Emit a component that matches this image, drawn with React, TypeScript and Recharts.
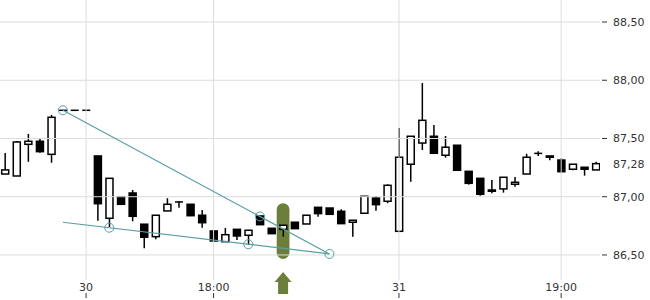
import React from 'react';
import {
  ComposedChart,
  Bar,
  XAxis,
  YAxis,
  ReferenceLine,
  ReferenceDot,
  ReferenceArea,
} from 'recharts';

// candle values, one entry per period
const opens = [
  87.195, 87.178, 87.45, 87.476, 87.364, 87.742, 87.742, 87.742, 87.35, 86.815,
  87.0, 87.032, 86.764, 86.657, 86.878, 86.955, 86.935, 86.841, 86.706, 86.614,
  86.72, 86.669, 86.835, 86.729, 86.72, 86.781, 86.766, 86.909, 86.903, 86.875,
  86.781, 86.858, 86.989, 86.961, 86.703, 87.279, 87.461, 87.519, 87.356, 87.442,
  87.218, 87.158, 87.058, 87.067, 87.107, 87.195, 87.37, 87.35, 87.315, 87.236,
  87.253, 87.23,
];
const highs = [
  87.376, 87.479, 87.539, 87.5, 87.702, 87.742, 87.742, 87.742, 87.35, 87.158,
  87.0, 87.058, 86.764, 86.841, 86.987, 86.961, 86.935, 86.886, 86.706, 86.732,
  86.72, 86.712, 86.835, 86.729, 86.755, 86.781, 86.841, 86.909, 86.903, 86.892,
  86.798, 87.004, 87.006, 87.107, 87.59, 87.519, 87.976, 87.616, 87.521, 87.442,
  87.218, 87.158, 87.144, 87.167, 87.17, 87.369, 87.39, 87.35, 87.33, 87.279,
  87.253, 87.3,
];
const lows = [
  87.195, 87.178, 87.3, 87.378, 87.292, 87.742, 87.742, 87.742, 86.794, 86.74,
  86.935, 86.789, 86.557, 86.635, 86.878, 86.906, 86.837, 86.734, 86.62, 86.614,
  86.629, 86.586, 86.76, 86.683, 86.657, 86.726, 86.766, 86.829, 86.849, 86.769,
  86.657, 86.858, 86.88, 86.944, 86.703, 87.129, 87.401, 87.373, 87.335, 87.227,
  87.104, 87.009, 87.03, 87.035, 87.086, 87.195, 87.35, 87.313, 87.21, 87.227,
  87.181, 87.23,
];
const closes = [
  87.23, 87.47, 87.476, 87.387, 87.682, 87.742, 87.742, 87.742, 86.94, 87.158,
  86.935, 86.832, 86.652, 86.841, 86.935, 86.955, 86.837, 86.777, 86.62, 86.674,
  86.663, 86.712, 86.76, 86.683, 86.755, 86.726, 86.841, 86.855, 86.849, 86.769,
  86.798, 87.004, 86.932, 87.098, 87.339, 87.519, 87.656, 87.373, 87.425, 87.227,
  87.115, 87.021, 87.047, 87.167, 87.124, 87.339, 87.372, 87.339, 87.215, 87.279,
  87.236, 87.284,
];

const xTickIdx = [7, 18, 34, 48];
const xTickLabels = ['30', '18:00', '31', '19:00'];
const yTicks = [86.5, 87, 87.5, 88, 88.5];
const lastPrice = 87.28;

const upperTrend = [
  { i: 5, v: 87.742 },
  { i: 28, v: 86.509 },
];
const lowerTrend = [
  { i: 5, v: 86.781 },
  { i: 28, v: 86.509 },
];
const trendPoints = [
  { i: 5, v: 87.742 },
  { i: 22, v: 86.831 },
  { i: 28, v: 86.509 },
  { i: 9, v: 86.734 },
  { i: 21, v: 86.592 },
];
const signalIdx = 24;
const signalRange = [86.466, 86.944];
const arrowLevel = 86.26;

const rows = opens.map((open, i) => ({
  i,
  open,
  high: highs[i],
  low: lows[i],
  close: closes[i],
}));

const TEAL = '#5a9ea6';
const GREEN = '#6b7f3b';
const GRID = '#dcdcdc';
const FONT = 'DejaVu Sans, sans-serif';

const fmt = (v: number) => v.toFixed(2).replace('.', ',');

const Candle = (props: any) => {
  const { x, y, width, height, payload } = props;
  const { open, close, high, low } = payload;
  const cx = x + width / 2;
  const h = Math.abs(height || 0);
  const top = Math.min(y, y + (height || 0));
  const range = high - low;
  const toPx = (v: number) => (range > 0 ? top + ((high - v) / range) * h : top);
  const yo = toPx(open);
  const yc = toPx(close);
  const bodyTop = Math.min(yo, yc);
  const bodyH = Math.abs(yo - yc);
  const up = close >= open;
  return (
    <g>
      {h > 0 && <line x1={cx} x2={cx} y1={top} y2={top + h} stroke="#000" strokeWidth={1.5} />}
      {bodyH < 0.8 ? (
        <line x1={cx - 4} x2={cx + 4} y1={bodyTop} y2={bodyTop} stroke="#000" strokeWidth={1.5} />
      ) : (
        <rect
          x={cx - 3.5}
          y={bodyTop}
          width={7}
          height={bodyH}
          fill={up ? '#fff' : '#000'}
          stroke="#000"
          strokeWidth={1.5}
        />
      )}
    </g>
  );
};

const XTick = (props: any) => {
  const { x, y, payload } = props;
  const label = xTickLabels[xTickIdx.indexOf(payload.value)];
  return (
    <g>
      <text x={x} y={y + 11} textAnchor="middle" fontSize={11} fontFamily={FONT} fill="#333">
        {label}
      </text>
      <line x1={x} x2={x} y1={y + 13} y2={y + 18} stroke="#333" strokeWidth={1} />
    </g>
  );
};

const YTick = (props: any) => {
  const { x, y, payload } = props;
  const isLast = payload.value === lastPrice;
  return (
    <g>
      {!isLast && <line x1={x + 2} x2={x + 7} y1={y} y2={y} stroke="#333" strokeWidth={1} />}
      <text x={x + 13} y={y} dy="0.35em" fontSize={11} fontFamily={FONT} fill="#333">
        {fmt(payload.value)}
      </text>
    </g>
  );
};

const Pill = (props: any) => {
  const { x, y, width, height } = props;
  return <rect x={x} y={y} width={width} height={height} rx={width / 2} ry={width / 2} fill={GREEN} />;
};

const Arrow = (props: any) => {
  const { cx, cy } = props;
  const d = `M${cx},${cy - 11} L${cx + 8.5},${cy - 1} L${cx + 5},${cy - 1} L${cx + 5},${cy + 11} L${cx - 5},${cy + 11} L${cx - 5},${cy - 1} L${cx - 8.5},${cy - 1} Z`;
  return <path d={d} fill={GREEN} />;
};

export default function App() {
  return (
    <div style={{ position: 'absolute', left: 0, top: 0, width: 650, height: 300, background: '#fff' }}>
      <ComposedChart width={650} height={300} data={rows} margin={{ top: 0, right: 0, bottom: 0, left: 0 }}>
        <XAxis
          dataKey="i"
          type="number"
          domain={[-0.43, 51.35]}
          allowDataOverflow
          ticks={xTickIdx}
          interval={0}
          height={20}
          axisLine={false}
          tickLine={false}
          tickSize={0}
          tickMargin={0}
          tick={<XTick />}
        />
        <YAxis
          orientation="right"
          domain={[86.285, 88.689]}
          allowDataOverflow
          ticks={[...yTicks, lastPrice]}
          interval={0}
          width={50}
          axisLine={false}
          tickLine={false}
          tickSize={0}
          tickMargin={0}
          tick={<YTick />}
        />
        {yTicks.map((v) => (
          <ReferenceLine key={'h' + v} y={v} stroke={GRID} strokeWidth={1} />
        ))}
        {xTickIdx.map((v) => (
          <ReferenceLine key={'v' + v} x={v} stroke={GRID} strokeWidth={1} />
        ))}
        <ReferenceArea
          x1={signalIdx - 0.55}
          x2={signalIdx + 0.55}
          y1={signalRange[0]}
          y2={signalRange[1]}
          shape={<Pill />}
        />
        <Bar dataKey={(d: any) => [d.low, d.high]} barSize={8} shape={<Candle />} isAnimationActive={false} />
        <ReferenceLine
          segment={upperTrend.map((p) => ({ x: p.i, y: p.v }))}
          stroke={TEAL}
          strokeWidth={1.2}
          ifOverflow="visible"
        />
        <ReferenceLine
          segment={lowerTrend.map((p) => ({ x: p.i, y: p.v }))}
          stroke={TEAL}
          strokeWidth={1.2}
          ifOverflow="visible"
        />
        {trendPoints.map((p) => (
          <ReferenceDot
            key={'c' + p.i}
            x={p.i}
            y={p.v}
            r={4.5}
            fill="none"
            stroke={TEAL}
            strokeWidth={1}
            ifOverflow="visible"
          />
        ))}
        <ReferenceDot x={signalIdx} y={arrowLevel} r={0} ifOverflow="visible" shape={<Arrow />} />
      </ComposedChart>
    </div>
  );
}
